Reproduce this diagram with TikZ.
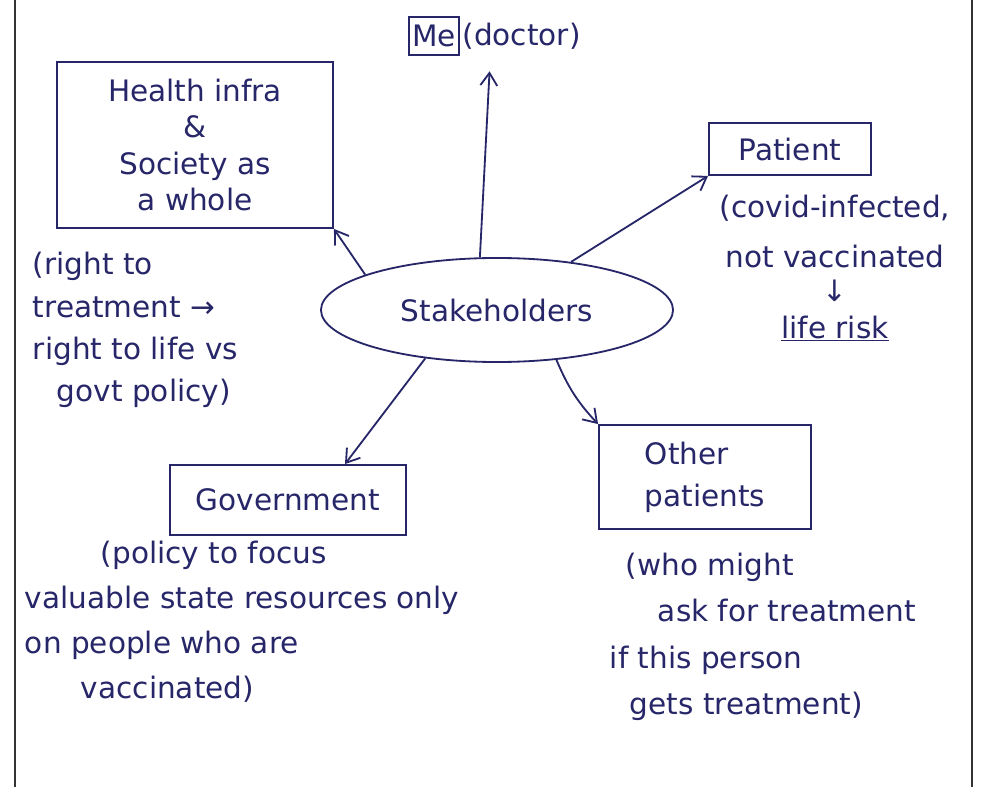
\documentclass[tikz,border=0pt]{standalone}
\usepackage{fontspec}
\setmainfont{DejaVu Sans}
\usetikzlibrary{shapes.geometric,calc,arrows.meta}
\definecolor{ink}{RGB}{38,38,105}

\begin{document}
\begin{tikzpicture}[>={Straight Barb[length=9pt,width=12pt]}, x=0.025cm, y=-0.025cm,
    every node/.style={text=ink, font=\fontsize{21}{30}\selectfont},
    box/.style={draw=ink, line width=1.3pt},
    link/.style={->, draw=ink, line width=1.3pt}]
    \useasboundingbox (0,0) rectangle (986,787);
    % page edges
    \draw[line width=1.4pt, black!80] (15,0) -- (15,787);
    \draw[line width=1.4pt, black!80] (972,0) -- (972,787);
    % centre
    \node[ellipse, draw=ink, line width=1.3pt, minimum width=8.8cm, minimum height=2.6cm] (stake) at (497,310) {Stakeholders};
    % the stakeholders
    \node[box, minimum width=1.2cm, minimum height=0.93cm, inner sep=2pt] (me) at (434,36) {Me};
    \node[anchor=west, inner sep=2pt] (doctor) at (me.east) {(doctor)};
    \node[box, minimum width=6.9cm, minimum height=4.15cm, align=center, font=\fontsize{21}{26}\selectfont] (health) at (195,145) {Health infra\\\&\\Society as\\a whole};
    \node[box, minimum width=4.05cm, minimum height=1.3cm] (patient) at (790,149) {Patient};
    \node[box, minimum width=5.9cm, minimum height=1.75cm] (gov) at (288,500) {Government};
    \node[box, minimum width=5.3cm, minimum height=2.6cm, align=left] (other) at (705,477) {Other\\patients};
    % notes
    \node[anchor=west, align=left] (rightnote) at (28,330) {(right to\\treatment →\\right to life vs\\\hspace{0.6cm}govt policy)};
    \node[align=center] (patnote) at (835,268) {(covid-infected,\\[6pt]not vaccinated\\[-6pt]↓\\[-4pt]\underline{life risk}};
    \node[anchor=west, align=left, font=\fontsize{21}{32}\selectfont] (govnote) at (20,622) {\hspace{1.9cm}(policy to focus\\valuable state resources only\\on people who are\\\hspace{1.4cm}vaccinated)};
    \node[anchor=west, align=left, font=\fontsize{21}{33}\selectfont] (othernote) at (605,637) {\hspace{0.4cm}(who might\\\hspace{1.2cm}ask for treatment\\if this person\\\hspace{0.5cm}gets treatment)};
    % connectors
    \draw[link] (stake.108) -- ($(doctor.south west)+(30,19)$);
    \draw[link] (stake.165) -- (health.south east);
    \draw[link] (stake.33) -- (patient.south west);
    \draw[link] (stake.214) -- ($(gov.north)+(57,0)$);
    \draw[link] (stake.-40) to[bend right=10] (other.north west);
\end{tikzpicture}
\end{document}
